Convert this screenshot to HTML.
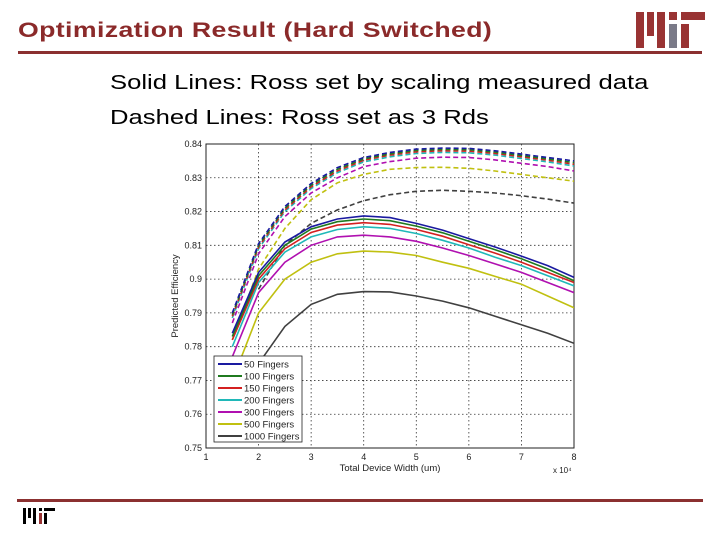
<!DOCTYPE html>
<html><head><meta charset="utf-8"><style>
body{margin:0;width:720px;height:540px;background:#fff;position:relative;overflow:hidden;font-family:"Liberation Sans",sans-serif}
.t{position:absolute;left:18px;top:19px;font-size:21px;font-weight:bold;color:#8b2a2a;letter-spacing:0.3px;transform:scaleX(1.27);transform-origin:0 0;white-space:nowrap}
.b{position:absolute;left:110px;font-size:20.5px;color:#000;transform:scaleX(1.25);transform-origin:0 0;white-space:nowrap}
.r{position:absolute;background:#8b3030}
</style></head><body>
<div class="t">Optimization Result (Hard Switched)</div>
<div class="r" style="left:18px;top:51px;width:684px;height:3px"></div>
<div class="r" style="left:17px;top:499px;width:686px;height:3px"></div>
<svg style="position:absolute;left:0;top:0" width="720" height="60">
<rect x="636" y="12" width="8" height="36" fill="#993333"/><rect x="647" y="12" width="7" height="24" fill="#993333"/><rect x="657" y="12" width="8" height="36" fill="#993333"/><rect x="669" y="12" width="8" height="8" fill="#993333"/><rect x="669" y="24" width="8" height="24" fill="#7a7a88"/><rect x="681" y="12" width="24" height="8" fill="#993333"/><rect x="681" y="24" width="8" height="24" fill="#993333"/>
</svg>
<svg style="position:absolute;left:0;top:500px" width="80" height="40">
<rect x="23" y="8" width="3" height="16" fill="#000"/><rect x="28" y="8" width="3" height="10" fill="#000"/><rect x="33" y="8" width="3" height="16" fill="#000"/><rect x="39" y="8" width="3" height="3" fill="#000"/><rect x="39" y="13" width="3" height="11" fill="#993333"/><rect x="44" y="8" width="11" height="3" fill="#000"/><rect x="44" y="13" width="3" height="11" fill="#000"/>
</svg>
<div class="b" style="top:71px">Solid Lines: Ross set by scaling measured data</div>
<div class="b" style="top:106px">Dashed Lines: Ross set as 3 Rds</div>
<svg id="chart" style="position:absolute;left:0;top:0" width="720" height="540" font-family="Liberation Sans, sans-serif"></svg>
<script>
const xs=[1.5,2,2.5,3,3.5,4,4.5,5,5.5,6,6.5,7,7.5,8];
const labels=["50 Fingers","100 Fingers","150 Fingers","200 Fingers","300 Fingers","500 Fingers","1000 Fingers"];
const colors=["#1a1aa0","#1f7a1f","#d42020","#20b8b8","#b010b0","#c0c010","#404040"];
const solid50=[.784,.802,.811,.8155,.8178,.8187,.8182,.8165,.8145,.812,.8095,.8068,.804,.8005];
const solid100=[.783,.801,.810,.8148,.8170,.8178,.8173,.8157,.8137,.8112,.8087,.806,.803,.7995];
const solid150=[.782,.800,.809,.8138,.8160,.8167,.8162,.8147,.8127,.8102,.8077,.805,.802,.799];
const solid200=[.780,.799,.808,.8125,.8147,.8155,.8150,.8135,.8115,.8092,.8065,.804,.801,.798];
const solid300=[.777,.796,.805,.810,.8125,.813,.8125,.8112,.8092,.807,.8045,.802,.799,.796];
const solid500=[.770,.790,.800,.805,.8075,.8083,.808,.807,.805,.8032,.8008,.7985,.795,.7915];
const solid1000=[null,.775,.786,.7925,.7955,.7963,.7962,.795,.7935,.7915,.789,.7865,.784,.781];
const dash50=[.790,.8105,.8215,.8283,.833,.836,.8375,.8385,.8388,.8387,.838,.837,.836,.835];
const dash100=[.7895,.810,.821,.8278,.8325,.8356,.8371,.8381,.8384,.8383,.8376,.8366,.8356,.8345];
const dash150=[.789,.8095,.8205,.8273,.832,.8352,.8367,.8377,.838,.8379,.8372,.8362,.8352,.834];
const dash200=[.7885,.809,.820,.8268,.8315,.8347,.8362,.8372,.8375,.8374,.8367,.8357,.8347,.8335];
const dash300=[.787,.8075,.8185,.8255,.830,.8333,.8348,.8358,.8361,.836,.8353,.8343,.8333,.832];
const dash500=[.782,.803,.815,.8235,.8285,.831,.8325,.833,.8331,.8328,.832,.831,.830,.829];
const dash1000=[null,.797,.810,.8165,.8205,.8232,.825,.826,.8263,.826,.8255,.8247,.8237,.8225];
const solids=[solid50,solid100,solid150,solid200,solid300,solid500,solid1000];
const dashes=[dash50,dash100,dash150,dash200,dash300,dash500,dash1000];
const xTicks=[1,2,3,4,5,6,7,8];
const yTicks=[0.75,0.76,0.77,0.78,0.79,0.80,0.81,0.82,0.83,0.84];
const yTickLabels=["0.75","0.76","0.77","0.78","0.79","0.9","0.81","0.82","0.83","0.84"];
const L=206,R=574,T=144,B=448;
const sx=v=>L+(v-1)/(8-1)*(R-L);
const sy=v=>B-(v-0.75)/(0.84-0.75)*(B-T);
const svg=document.getElementById('chart');const NS="http://www.w3.org/2000/svg";
function mk(tag,attrs,parent){const e=document.createElementNS(NS,tag);for(const k in attrs)e.setAttribute(k,attrs[k]);(parent||svg).appendChild(e);return e;}
const defs=mk('defs',{});const cp=mk('clipPath',{id:'pc'},defs);mk('rect',{x:L,y:T,width:R-L,height:B-T},cp);
xTicks.forEach((t,i)=>{const g=mk('line',{x1:sx(t),x2:sx(t),y1:T,y2:B,stroke:'#333','stroke-width':0.8,'stroke-dasharray':'1.5,2.5'});

const tx=mk('text',{x:sx(t),y:B+12,'font-size':9,'text-anchor':'middle',fill:'#222'});tx.textContent=t;
});
yTicks.forEach((t,i)=>{const g=mk('line',{x1:L,x2:R,y1:sy(t),y2:sy(t),stroke:'#333','stroke-width':0.8,'stroke-dasharray':'1.5,2.5'});

const tx=mk('text',{x:L-4,y:sy(t)+3,'font-size':9,'text-anchor':'end',fill:'#222'});tx.textContent=yTickLabels[i];
});
const fr=mk('rect',{x:L,y:T,width:R-L,height:B-T,fill:'none',stroke:'#222','stroke-width':1});

function path(arr){let d='';arr.forEach((v,i)=>{if(v==null)return;d+=(d?'L':'M')+sx(xs[i]).toFixed(1)+','+sy(v).toFixed(1);});return d;}
const g=mk('g',{'clip-path':'url(#pc)'});
for(let i=dashes.length-1;i>=0;i--){const p=mk('path',{d:path(dashes[i]),fill:'none',stroke:colors[i],'stroke-width':1.6,'stroke-dasharray':'5,3'},g);
}
for(let i=solids.length-1;i>=0;i--){const p=mk('path',{d:path(solids[i]),fill:'none',stroke:colors[i],'stroke-width':1.6},g);
}
const lg=mk('rect',{x:214,y:356,width:88,height:86,fill:'#fff',stroke:'#222','stroke-width':0.8});

labels.forEach((lb,i)=>{const y=364+i*12;mk('line',{x1:218,x2:242,y1:y,y2:y,stroke:colors[i],'stroke-width':2});
const tx=mk('text',{x:244,y:y+3.5,'font-size':9.5,fill:'#222'});tx.textContent=lb;
});
const xl=mk('text',{x:390,y:471,'font-size':9.5,'text-anchor':'middle',fill:'#222'});xl.textContent='Total Device Width (um)';

const xm=mk('text',{x:553,y:473,'font-size':8,fill:'#222'});xm.textContent='x 10⁴';

const yl=mk('text',{x:0,y:0,'font-size':9.5,'text-anchor':'middle',fill:'#222',transform:'translate(178,296) rotate(-90)'});yl.textContent='Predicted Efficiency';

</script>
</body></html>
